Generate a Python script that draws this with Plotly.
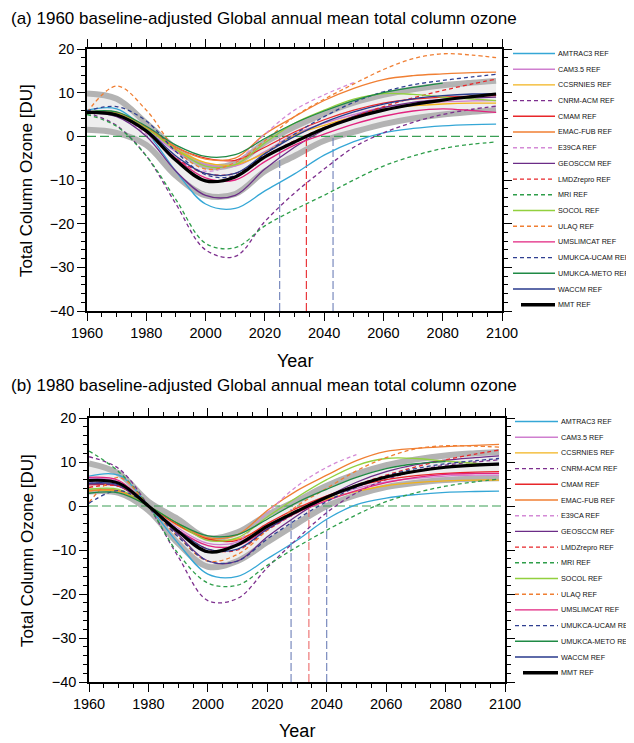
import plotly.graph_objects as go

# the page body has an 8px margin: the figure is sized and positioned to fill the window
PAGE_OFF = 8
W, H = 634 - PAGE_OFF, 743 - PAGE_OFF

YEARS = [1960, 1970, 1980, 1990, 2000, 2010, 2020, 2030, 2040, 2050, 2060, 2070, 2080, 2090, 2098]
X_TICKS = [1960, 1980, 2000, 2020, 2040, 2060, 2080, 2100]
Y_TICKS = [-40, -30, -20, -10, 0, 10, 20]

# ---------------- panel (a): 1960 baseline ----------------
a_amtrac3 = [6.0, 6.3, 1.0, -8.0, -15.5, -16.5, -12.5, -8.6, -4.3, -1.2, 0.8, 1.8, 2.4, 2.7, 2.8]
a_cam35 = [5.5, 5.0, 1.5, -3.5, -6.5, -6.8, -3.5, 0.5, 3.0, 5.0, 6.6, 7.4, 7.9, 8.1, 8.2]
a_ccsrnies = [5.3, 5.0, 1.8, -3.0, -6.0, -6.5, -3.8, 0.3, 2.5, 4.5, 6.2, 7.0, 7.4, 7.6, 7.6]
a_cnrm = [5.4, 2.5, -4.5, -15.5, -26.0, -27.5, -19.5, -13.0, -7.5, -2.5, 0.8, 3.2, 5.0, 6.2, 6.9]
a_cmam = [5.5, 5.3, 2.0, -2.5, -5.0, -5.5, -2.5, 1.0, 3.8, 6.0, 7.6, 8.5, 9.0, 9.2, 9.3]
a_emac = [5.5, 5.5, 2.0, -2.5, -5.2, -5.0, 0.5, 4.5, 8.2, 11.0, 13.0, 13.9, 14.3, 14.6, 14.7]
a_e39ca = [5.2, 4.8, 0.5, -5.0, -8.0, -6.0, 0.5, 6.0, 9.5, 12.3, None, None, None, None, None]
a_geosccm = [5.3, 4.5, 0.0, -8.0, -13.5, -13.5, -7.5, -2.5, 1.5, 4.6, 6.6, 7.8, 8.4, 8.8, 9.0]
a_lmdz = [5.6, 5.2, 1.0, -5.0, -8.5, -8.5, -4.5, -1.0, 2.0, 4.5, 6.8, 8.8, 10.5, 12.0, 13.1]
a_mri = [5.0, 2.3, -4.5, -14.5, -24.5, -25.5, -20.5, -16.8, -13.5, -10.0, -6.8, -4.5, -2.8, -1.8, -1.3]
a_socol = [5.4, 5.2, 1.8, -3.0, -6.8, -6.5, -1.5, 3.0, 6.0, 8.5, 9.8, 9.6, 9.0, 8.5, 8.2]
a_ulaq = [5.5, 11.5, 6.0, -3.0, -7.5, -6.0, -1.0, 4.5, 8.5, 12.0, 15.3, 17.8, 18.9, 18.6, 18.0]
a_umslimcat = [5.7, 5.0, 1.0, -5.0, -9.5, -10.0, -5.8, -2.0, 0.5, 2.8, 4.6, 5.8, 6.3, 5.9, 5.5]
a_ucam = [5.8, 6.8, 3.5, -3.5, -8.8, -9.0, -4.0, 0.5, 4.5, 7.8, 10.2, 11.8, 12.8, 13.6, 14.2]
a_meto = [5.6, 5.6, 2.3, -2.0, -4.6, -4.2, -0.5, 3.0, 5.8, 8.2, 10.0, 11.2, 12.2, None, None]
a_waccm = [5.5, 5.0, 1.5, -4.5, -8.5, -8.5, -4.0, 0.0, 3.2, 5.6, 7.4, 8.6, 9.3, 9.7, 9.8]
a_mmt = [5.5, 4.9, 1.2, -5.5, -10.2, -9.3, -4.7, -1.3, 1.8, 4.2, 6.0, 7.3, 8.3, 9.1, 9.7]
a_upper = [9.8, 8.6, 3.0, -2.8, -6.8, -6.2, -1.4, 2.2, 5.2, 7.7, 9.5, 10.8, 11.7, 12.3, 12.7]
a_lower = [1.5, 0.8, -2.0, -9.0, -13.5, -13.2, -8.0, -4.5, -1.0, 1.0, 2.8, 4.1, 5.0, 5.6, 6.0]
a_return = [2025, 2034, 2043]

# ---------------- panel (b): 1980 baseline ----------------
b_amtrac3 = [6.8, 7.0, 0.0, -8.5, -15.5, -16.0, -12.0, -7.8, -3.0, 0.3, 1.8, 2.6, 3.1, 3.3, 3.4]
b_cam35 = [6.3, 5.5, 0.0, -5.0, -8.5, -8.2, -4.5, -1.0, 2.0, 4.0, 5.5, 6.3, 6.8, 7.0, 7.0]
b_ccsrnies = [3.5, 3.3, 0.0, -4.5, -7.5, -7.5, -4.5, -1.0, 1.5, 3.3, 4.6, 5.3, 5.7, 5.9, 5.9]
b_cnrm = [11.2, 8.5, 0.0, -11.5, -21.5, -21.0, -14.0, -7.5, -1.5, 3.0, 6.0, 8.0, 9.3, 10.0, 10.5]
b_cmam = [4.8, 4.5, 0.0, -4.3, -7.5, -7.8, -4.0, -0.5, 2.3, 4.5, 6.0, 6.9, 7.4, 7.7, 7.8]
b_emac = [3.4, 3.5, 0.0, -4.0, -7.2, -6.5, -1.0, 3.5, 7.0, 10.3, 12.4, 13.1, 13.5, 13.8, 14.0]
b_e39ca = [5.2, 5.5, 0.0, -6.0, -10.5, -8.0, -1.5, 4.5, 8.8, 11.7, None, None, None, None, None]
b_geosccm = [5.0, 4.5, 0.0, -6.5, -12.5, -12.5, -7.0, -2.2, 2.0, 5.4, 7.8, 9.4, 10.4, 11.0, 11.4]
b_lmdz = [4.2, 4.5, 0.0, -5.5, -9.8, -10.0, -5.5, -1.5, 2.0, 4.8, 7.0, 8.9, 10.5, 11.8, 12.7]
b_mri = [12.5, 7.8, 0.0, -10.8, -17.5, -18.0, -13.5, -9.3, -5.5, -2.0, 1.0, 3.0, 4.5, 5.5, 6.1]
b_socol = [3.8, 3.8, 0.0, -4.0, -7.8, -7.2, -2.5, 2.0, 6.0, 9.2, 10.8, 10.8, 10.2, 9.7, 9.5]
b_ulaq = [0.8, 6.5, 0.0, -7.0, -12.5, -11.0, -5.5, 0.0, 4.0, 8.0, 11.0, 13.0, 13.7, 13.6, 13.4]
b_umslimcat = [6.5, 5.8, 0.0, -5.5, -9.0, -9.0, -5.2, -1.5, 1.2, 3.5, 5.3, 6.5, 7.2, 7.4, 7.4]
b_ucam = [0.6, 3.5, 0.0, -7.0, -12.5, -12.5, -7.5, -3.0, 1.0, 4.3, 6.8, 8.5, 9.6, 10.3, 10.8]
b_meto = [2.9, 3.0, 0.0, -4.0, -6.8, -6.5, -3.0, 0.8, 3.8, 6.5, 8.5, 9.6, 10.1, None, None]
b_waccm = [5.2, 4.8, 0.0, -5.5, -9.8, -9.8, -5.3, -1.3, 2.0, 4.5, 6.5, 7.9, 8.8, 9.4, 9.7]
b_mmt = [5.8, 5.2, 0.0, -5.8, -10.4, -8.8, -4.6, -1.2, 2.0, 4.6, 6.6, 7.9, 8.8, 9.3, 9.5]
b_upper = [9.7, 7.4, 1.0, -3.0, -7.3, -6.0, -2.0, 1.2, 4.6, 7.3, 9.3, 10.6, 11.5, 12.0, 12.3]
b_lower = [3.3, 3.0, -1.0, -8.5, -13.8, -12.5, -8.2, -4.0, 0.0, 2.5, 4.3, 5.3, 5.9, 6.2, 6.3]
b_return = [2028, 2034, 2040]

NAMES = ["AMTRAC3 REF", "CAM3.5 REF", "CCSRNIES REF", "CNRM-ACM REF", "CMAM REF",
         "EMAC-FUB REF", "E39CA REF", "GEOSCCM REF", "LMDZrepro REF", "MRI REF",
         "SOCOL REF", "ULAQ REF", "UMSLIMCAT REF", "UMUKCA-UCAM REF", "UMUKCA-METO REF",
         "WACCM REF", "MMT REF"]
COLORS = ["#35a7d6", "#cf7fcf", "#f2b31c", "#7d2f8e", "#e8262a", "#f07f33", "#d48ad6",
          "#6b2c87", "#e8262a", "#2e9e4a", "#92d03e", "#f07f33", "#e2237f", "#2f3f91",
          "#1f8a45", "#283a8c", "#000000"]
DASHED = [False, False, False, True, False, False, True, False, True, True,
          False, True, False, True, False, False, False]

A_SERIES = [a_amtrac3, a_cam35, a_ccsrnies, a_cnrm, a_cmam, a_emac, a_e39ca, a_geosccm,
            a_lmdz, a_mri, a_socol, a_ulaq, a_umslimcat, a_ucam, a_meto, a_waccm, a_mmt]
B_SERIES = [b_amtrac3, b_cam35, b_ccsrnies, b_cnrm, b_cmam, b_emac, b_e39ca, b_geosccm,
            b_lmdz, b_mri, b_socol, b_ulaq, b_umslimcat, b_ucam, b_meto, b_waccm, b_mmt]

FONT = "Liberation Sans, Arial, Helvetica, sans-serif"
DASH_MODEL = "4px,3px"

fig = go.Figure()


def add_panel(series, upper, lower, returns, xa, ya, vred):
    fig.add_trace(go.Scatter(x=YEARS, y=upper, mode="lines", line=dict(width=0, shape="spline"),
                             xaxis=xa, yaxis=ya, showlegend=False, hoverinfo="skip"))
    fig.add_trace(go.Scatter(x=YEARS, y=lower, mode="lines", line=dict(width=0, shape="spline"),
                             fill="tonexty", fillcolor="#eeeeee",
                             xaxis=xa, yaxis=ya, showlegend=False, hoverinfo="skip"))
    for b in (upper, lower):
        fig.add_trace(go.Scatter(x=YEARS, y=b, mode="lines",
                                 line=dict(width=6, color="#b3b3b3", shape="spline"),
                                 xaxis=xa, yaxis=ya, showlegend=False, hoverinfo="skip"))
    fig.add_trace(go.Scatter(x=[X_TICKS[0], X_TICKS[-1]], y=[0, 0], mode="lines",
                             line=dict(width=1.1, color="#3a9e55", dash="9px,4px"),
                             xaxis=xa, yaxis=ya, showlegend=False, hoverinfo="skip"))
    rcol = ["#6d7fb8", vred, "#6d7fb8"]
    for yr, c in zip(returns, rcol):
        fig.add_trace(go.Scatter(x=[yr, yr], y=[Y_TICKS[0], 0], mode="lines",
                                 line=dict(width=1.1, color=c, dash="8px,3px"),
                                 xaxis=xa, yaxis=ya, showlegend=False, hoverinfo="skip"))
    for i, s in enumerate(series):
        is_mmt = (i == len(series) - 1)
        fig.add_trace(go.Scatter(
            x=YEARS, y=s, mode="lines", name=NAMES[i],
            line=dict(width=3.2 if is_mmt else 1.3, color=COLORS[i], shape="spline",
                      dash=DASH_MODEL if DASHED[i] else "solid"),
            xaxis=xa, yaxis=ya, showlegend=False))


add_panel(A_SERIES, a_upper, a_lower, a_return, "x", "y", "#e8262a")
add_panel(B_SERIES, b_upper, b_lower, b_return, "x2", "y2", "#ec6a6a")


def px(x):
    return (x - PAGE_OFF) / W


def py(y):
    return 1 - (y - PAGE_OFF) / H


axis_common = dict(
    showline=True, linecolor="black", linewidth=1.6, mirror="allticks",
    ticks="outside", ticklen=8, tickwidth=1.3, tickcolor="black",
    showgrid=False, zeroline=False, automargin=False,
    tickfont=dict(family=FONT, size=14.5, color="black"),
)

fig.update_layout(
    width=W, height=H, margin=dict(l=0, r=0, t=0, b=0, autoexpand=False),
    paper_bgcolor="white", plot_bgcolor="white", showlegend=False,
    xaxis=dict(domain=[px(87), px(502)], range=[1960, 2100], tickvals=X_TICKS, anchor="y",
               minor=dict(dtick=5, ticks="outside", ticklen=4, tickwidth=1, tickcolor="black"),
               ticklabelstandoff=0, **axis_common),
    yaxis=dict(domain=[py(311), py(49)], range=[-40, 20], tickvals=Y_TICKS, anchor="x",
               minor=dict(dtick=2, ticks="outside", ticklen=4, tickwidth=1, tickcolor="black"),
               **axis_common),
    xaxis2=dict(domain=[px(89), px(505)], range=[1960, 2100], tickvals=X_TICKS, anchor="y2",
                minor=dict(dtick=5, ticks="outside", ticklen=4, tickwidth=1, tickcolor="black"),
                ticklabelstandoff=0, **axis_common),
    yaxis2=dict(domain=[py(682), py(418)], range=[-40, 20], tickvals=Y_TICKS, anchor="x2",
                minor=dict(dtick=2, ticks="outside", ticklen=4, tickwidth=1, tickcolor="black"),
                **axis_common),
)

ann = []
shapes = []
ann.append(dict(text="(a) 1960 baseline-adjusted Global annual mean total column ozone",
                x=px(9), y=py(18), xref="paper", yref="paper", xanchor="left", yanchor="middle",
                showarrow=False, font=dict(family=FONT, size=17, color="black")))
ann.append(dict(text="(b) 1980 baseline-adjusted Global annual mean total column ozone",
                x=px(9), y=py(386), xref="paper", yref="paper", xanchor="left", yanchor="middle",
                showarrow=False, font=dict(family=FONT, size=17, color="black")))
for yc, xc in ((361, 295), (731, 297)):
    ann.append(dict(text="Year", x=px(xc), y=py(yc), xref="paper", yref="paper",
                    xanchor="center", yanchor="middle", showarrow=False,
                    font=dict(family=FONT, size=18, color="black")))
for yc in (181, 551):
    ann.append(dict(text="Total Column Ozone [DU]", x=px(27), y=py(yc), xref="paper", yref="paper",
                    xanchor="center", yanchor="middle", showarrow=False, textangle=-90,
                    font=dict(family=FONT, size=17, color="black")))

for (y0, x0, x1) in ((53.5, 513, 555), (421.5, 515, 558)):
    for i, name in enumerate(NAMES):
        yy = y0 + 15.7 * i
        is_mmt = (i == len(NAMES) - 1)
        shapes.append(dict(type="line", xref="paper", yref="paper",
                           x0=px(x0 + (8 if is_mmt else 0)), x1=px(x1), y0=py(yy), y1=py(yy),
                           line=dict(color=COLORS[i], width=3.5 if is_mmt else 1.4,
                                     dash=DASH_MODEL if DASHED[i] else "solid")))
        ann.append(dict(text=name, x=px(x1 + 0.5), y=py(yy), xref="paper", yref="paper",
                        xanchor="left", yanchor="middle", showarrow=False,
                        font=dict(family=FONT, size=7.2, color="#111111")))

fig.update_layout(annotations=ann, shapes=shapes)
fig.write_html("out.html")
